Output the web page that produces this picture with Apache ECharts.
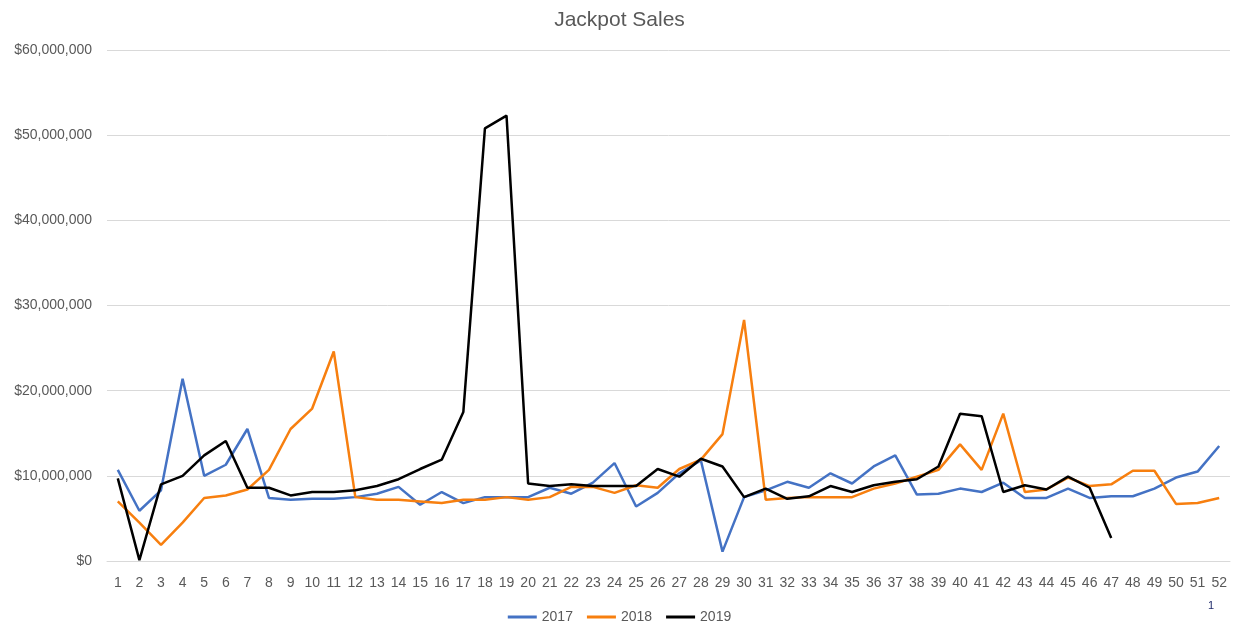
<!DOCTYPE html>
<html>
<head>
<meta charset="utf-8">
<script src="https://cdn.jsdelivr.net/npm/echarts@6/dist/echarts.min.js"></script>
<style>
  html, body { margin: 0; padding: 0; background: #fff; }
  #chart { width: 1239px; height: 624px; }
</style>
</head>
<body>
<div id="chart"></div>
<script>
// weeks 1..52
var weeks = [];
for (var w = 1; w <= 52; w++) weeks.push(String(w));

// weekly sales, millions of dollars
var sales2017 = [10.7, 5.9, 8.3, 21.4, 10.0, 11.3, 15.5, 7.4, 7.2, 7.3,
  7.3, 7.5, 7.9, 8.7, 6.6, 8.1, 6.8, 7.5, 7.5, 7.5,
  8.6, 7.9, 9.2, 11.5, 6.4, 8.0, 10.3, 11.8, 1.1, 7.5,
  8.3, 9.3, 8.6, 10.3, 9.1, 11.1, 12.4, 7.8, 7.9, 8.5,
  8.1, 9.2, 7.4, 7.4, 8.5, 7.4, 7.6, 7.6, 8.5, 9.8,
  10.5, 13.5];
var sales2018 = [7.0, 4.5, 1.9, 4.5, 7.4, 7.7, 8.4, 10.7, 15.5, 17.9,
  24.6, 7.5, 7.2, 7.2, 7.0, 6.8, 7.2, 7.2, 7.5, 7.2,
  7.5, 8.7, 8.7, 8.0, 8.9, 8.6, 10.8, 11.9, 14.9, 28.3,
  7.2, 7.4, 7.5, 7.5, 7.5, 8.5, 9.1, 9.9, 10.7, 13.7,
  10.7, 17.3, 8.1, 8.4, 9.8, 8.8, 9.0, 10.6, 10.6, 6.7,
  6.8, 7.4];
var sales2019 = [9.7, 0.1, 9.0, 10.0, 12.4, 14.1, 8.6, 8.6, 7.7, 8.1,
  8.1, 8.3, 8.8, 9.6, 10.8, 11.9, 17.5, 50.8, 52.3, 9.1,
  8.8, 9.0, 8.8, 8.8, 8.8, 10.8, 9.9, 12.0, 11.1, 7.5,
  8.5, 7.3, 7.6, 8.8, 8.1, 8.9, 9.3, 9.6, 11.1, 17.3,
  17.0, 8.1, 8.9, 8.4, 9.9, 8.6, 2.7];

function dollars(arr) {
  return arr.map(function (v) { return Math.round(v * 1000000); });
}

var textColor = '#595959';
var fontFamily = 'Liberation Sans, Arial, sans-serif';

var myChart = echarts.init(document.getElementById('chart'));

var option = {
  backgroundColor: '#fff',
  animation: false,
  title: {
    text: 'Jackpot Sales',
    left: 'center',
    top: 5,
    textStyle: { color: textColor, fontSize: 21, fontWeight: 'normal', fontFamily: fontFamily }
  },
  legend: {
    data: ['2017', '2018', '2019'],
    left: 'center',
    top: 605,
    icon: 'rect',
    itemWidth: 29,
    itemHeight: 3,
    itemGap: 14,
    textStyle: { color: textColor, fontSize: 14, fontFamily: fontFamily }
  },
  grid: {
    left: 107,
    right: 9,
    top: 50,
    bottom: 63,
    containLabel: false
  },
  xAxis: {
    type: 'category',
    data: weeks,
    boundaryGap: true,
    axisLine: { lineStyle: { color: '#d9d9d9' } },
    axisTick: { show: false },
    axisLabel: { color: textColor, fontSize: 14, fontFamily: fontFamily, interval: 0, margin: 15 }
  },
  yAxis: {
    type: 'value',
    min: 0,
    max: 60000000,
    interval: 10000000,
    axisLine: { show: false },
    axisTick: { show: false },
    splitLine: { lineStyle: { color: '#d9d9d9', width: 1 } },
    axisLabel: {
      color: textColor,
      fontSize: 14,
      fontFamily: fontFamily,
      margin: 15,
      formatter: function (v) {
        return '$' + v.toString().replace(/\B(?=(\d{3})+(?!\d))/g, ',');
      }
    }
  },
  series: [{
    name: '2017',
    type: 'line',
    data: dollars(sales2017),
    showSymbol: false,
    symbol: 'none',
    lineStyle: { color: '#4472C4', width: 2.5 },
    itemStyle: { color: '#4472C4' }
  }, {
    name: '2018',
    type: 'line',
    data: dollars(sales2018),
    showSymbol: false,
    symbol: 'none',
    lineStyle: { color: '#F77F0F', width: 2.5 },
    itemStyle: { color: '#F77F0F' }
  }, {
    name: '2019',
    type: 'line',
    data: dollars(sales2019),
    showSymbol: false,
    symbol: 'none',
    lineStyle: { color: '#000000', width: 2.5 },
    itemStyle: { color: '#000000' }
  }],
  graphic: [{
    type: 'text',
    left: 1208,
    top: 600,
    style: { text: '1', fill: '#1f2a6b', fontSize: 11, fontFamily: fontFamily }
  }]
};

myChart.setOption(option);
</script>
</body>
</html>
